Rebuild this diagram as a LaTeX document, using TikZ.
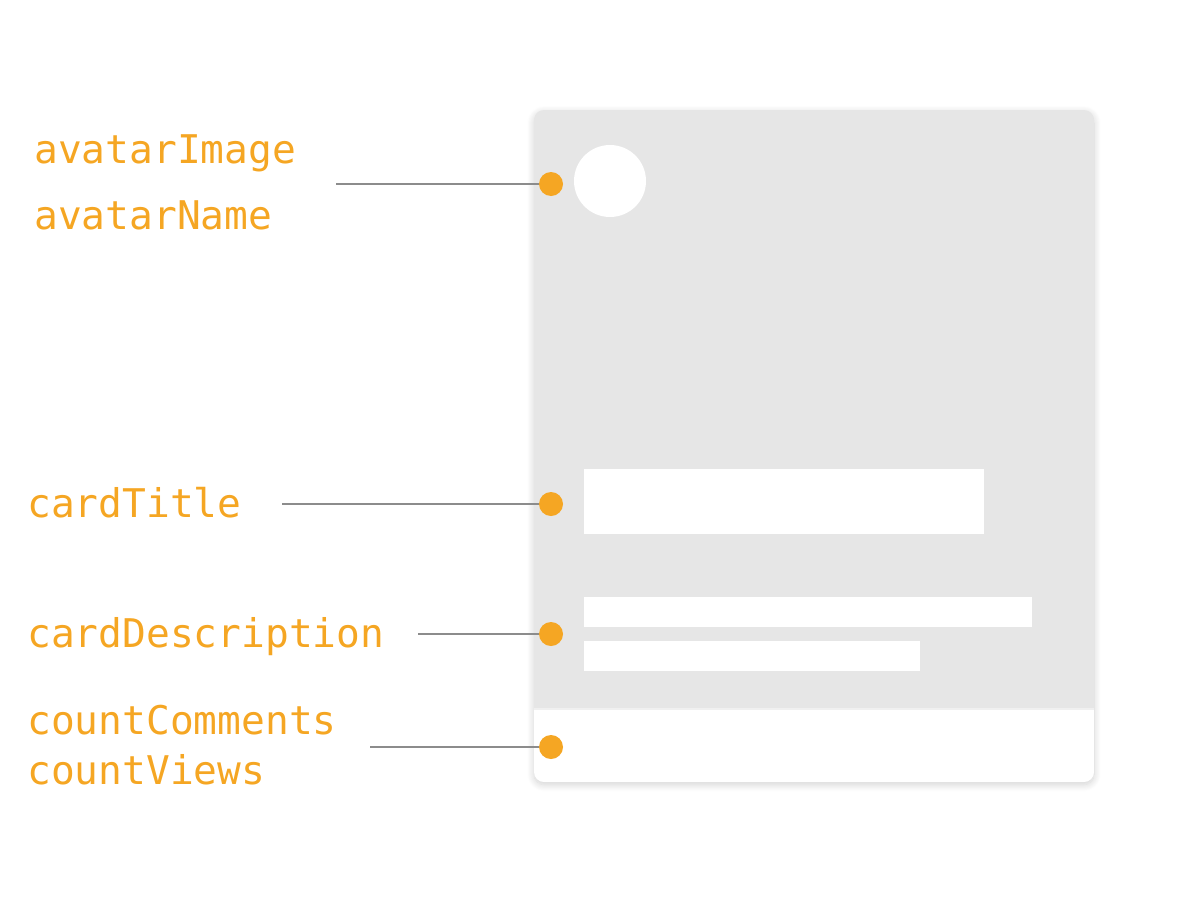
\documentclass[tikz,border=0pt]{standalone}
\usepackage{fontspec}
\setmonofont{DejaVu Sans Mono}
\usetikzlibrary{shadows.blur}
\definecolor{cardgray}{HTML}{E6E6E6}
\definecolor{tagorange}{HTML}{F5A623}
\definecolor{leadgray}{HTML}{8C8C8C}

\begin{document}
\begin{tikzpicture}[x=0.02cm,y=-0.02cm,
  tag/.style={anchor=base west,inner sep=0pt,text=tagorange,
    font=\ttfamily\fontsize{22.5}{27}\selectfont},
  pin/.style={circle,fill=tagorange,inner sep=0pt,minimum size=0.48cm},
  lead/.style={leadgray,line width=0.9pt},
  slot/.style={fill=white,draw=none,inner sep=0pt,anchor=north west}]
\useasboundingbox (0,0) rectangle (1200,900);

% card
\fill[cardgray,rounded corners=0.2cm,
  blur shadow={shadow xshift=0pt,shadow yshift=-1.5pt,shadow blur radius=4pt,
    shadow blur steps=10,shadow opacity=18}]
  (534,110) rectangle (1094,782);
\begin{scope}
  \clip[rounded corners=0.2cm] (534,110) rectangle (1094,782);
  \fill[white] (534,710) rectangle (1094,782);
  \draw[gray!12,line width=1pt] (534,709) -- (1094,709);
\end{scope}

% placeholders
\node[circle,fill=white,inner sep=0pt,minimum size=1.44cm] (avatar) at (610,181) {};
\node[slot,minimum width=8cm,minimum height=1.3cm] (title) at (584,469) {};
\node[slot,minimum width=8.96cm,minimum height=0.6cm] (desc1) at (584,597) {};
\node[slot,minimum width=6.72cm,minimum height=0.6cm] (desc2) at (584,641) {};

% labels
\node[tag] (avatarImage) at (34,163) {avatarImage};
\node[tag] (avatarName) at (34,229) {avatarName};
\node[tag] (cardTitle) at (27,517) {cardTitle};
\node[tag] (cardDescription) at (27,647) {cardDescription};
\node[tag] (countComments) at (27,734) {countComments};
\node[tag] (countViews) at (27,784) {countViews};

% pins
\node[pin] (avatarPin) at (551,184) {};
\node[pin] (titlePin) at (551,504) {};
\node[pin] (descPin) at (551,634) {};
\node[pin] (countPin) at (551,747) {};

\coordinate (avatarLead) at (336,184);
\coordinate (titleLead) at (282,504);
\coordinate (descLead) at (418,634);
\coordinate (countLead) at (370,747);

\draw[lead] (avatarLead) -- (avatarPin);
\draw[lead] (titleLead) -- (titlePin);
\draw[lead] (descLead) -- (descPin);
\draw[lead] (countLead) -- (countPin);
\end{tikzpicture}
\end{document}
